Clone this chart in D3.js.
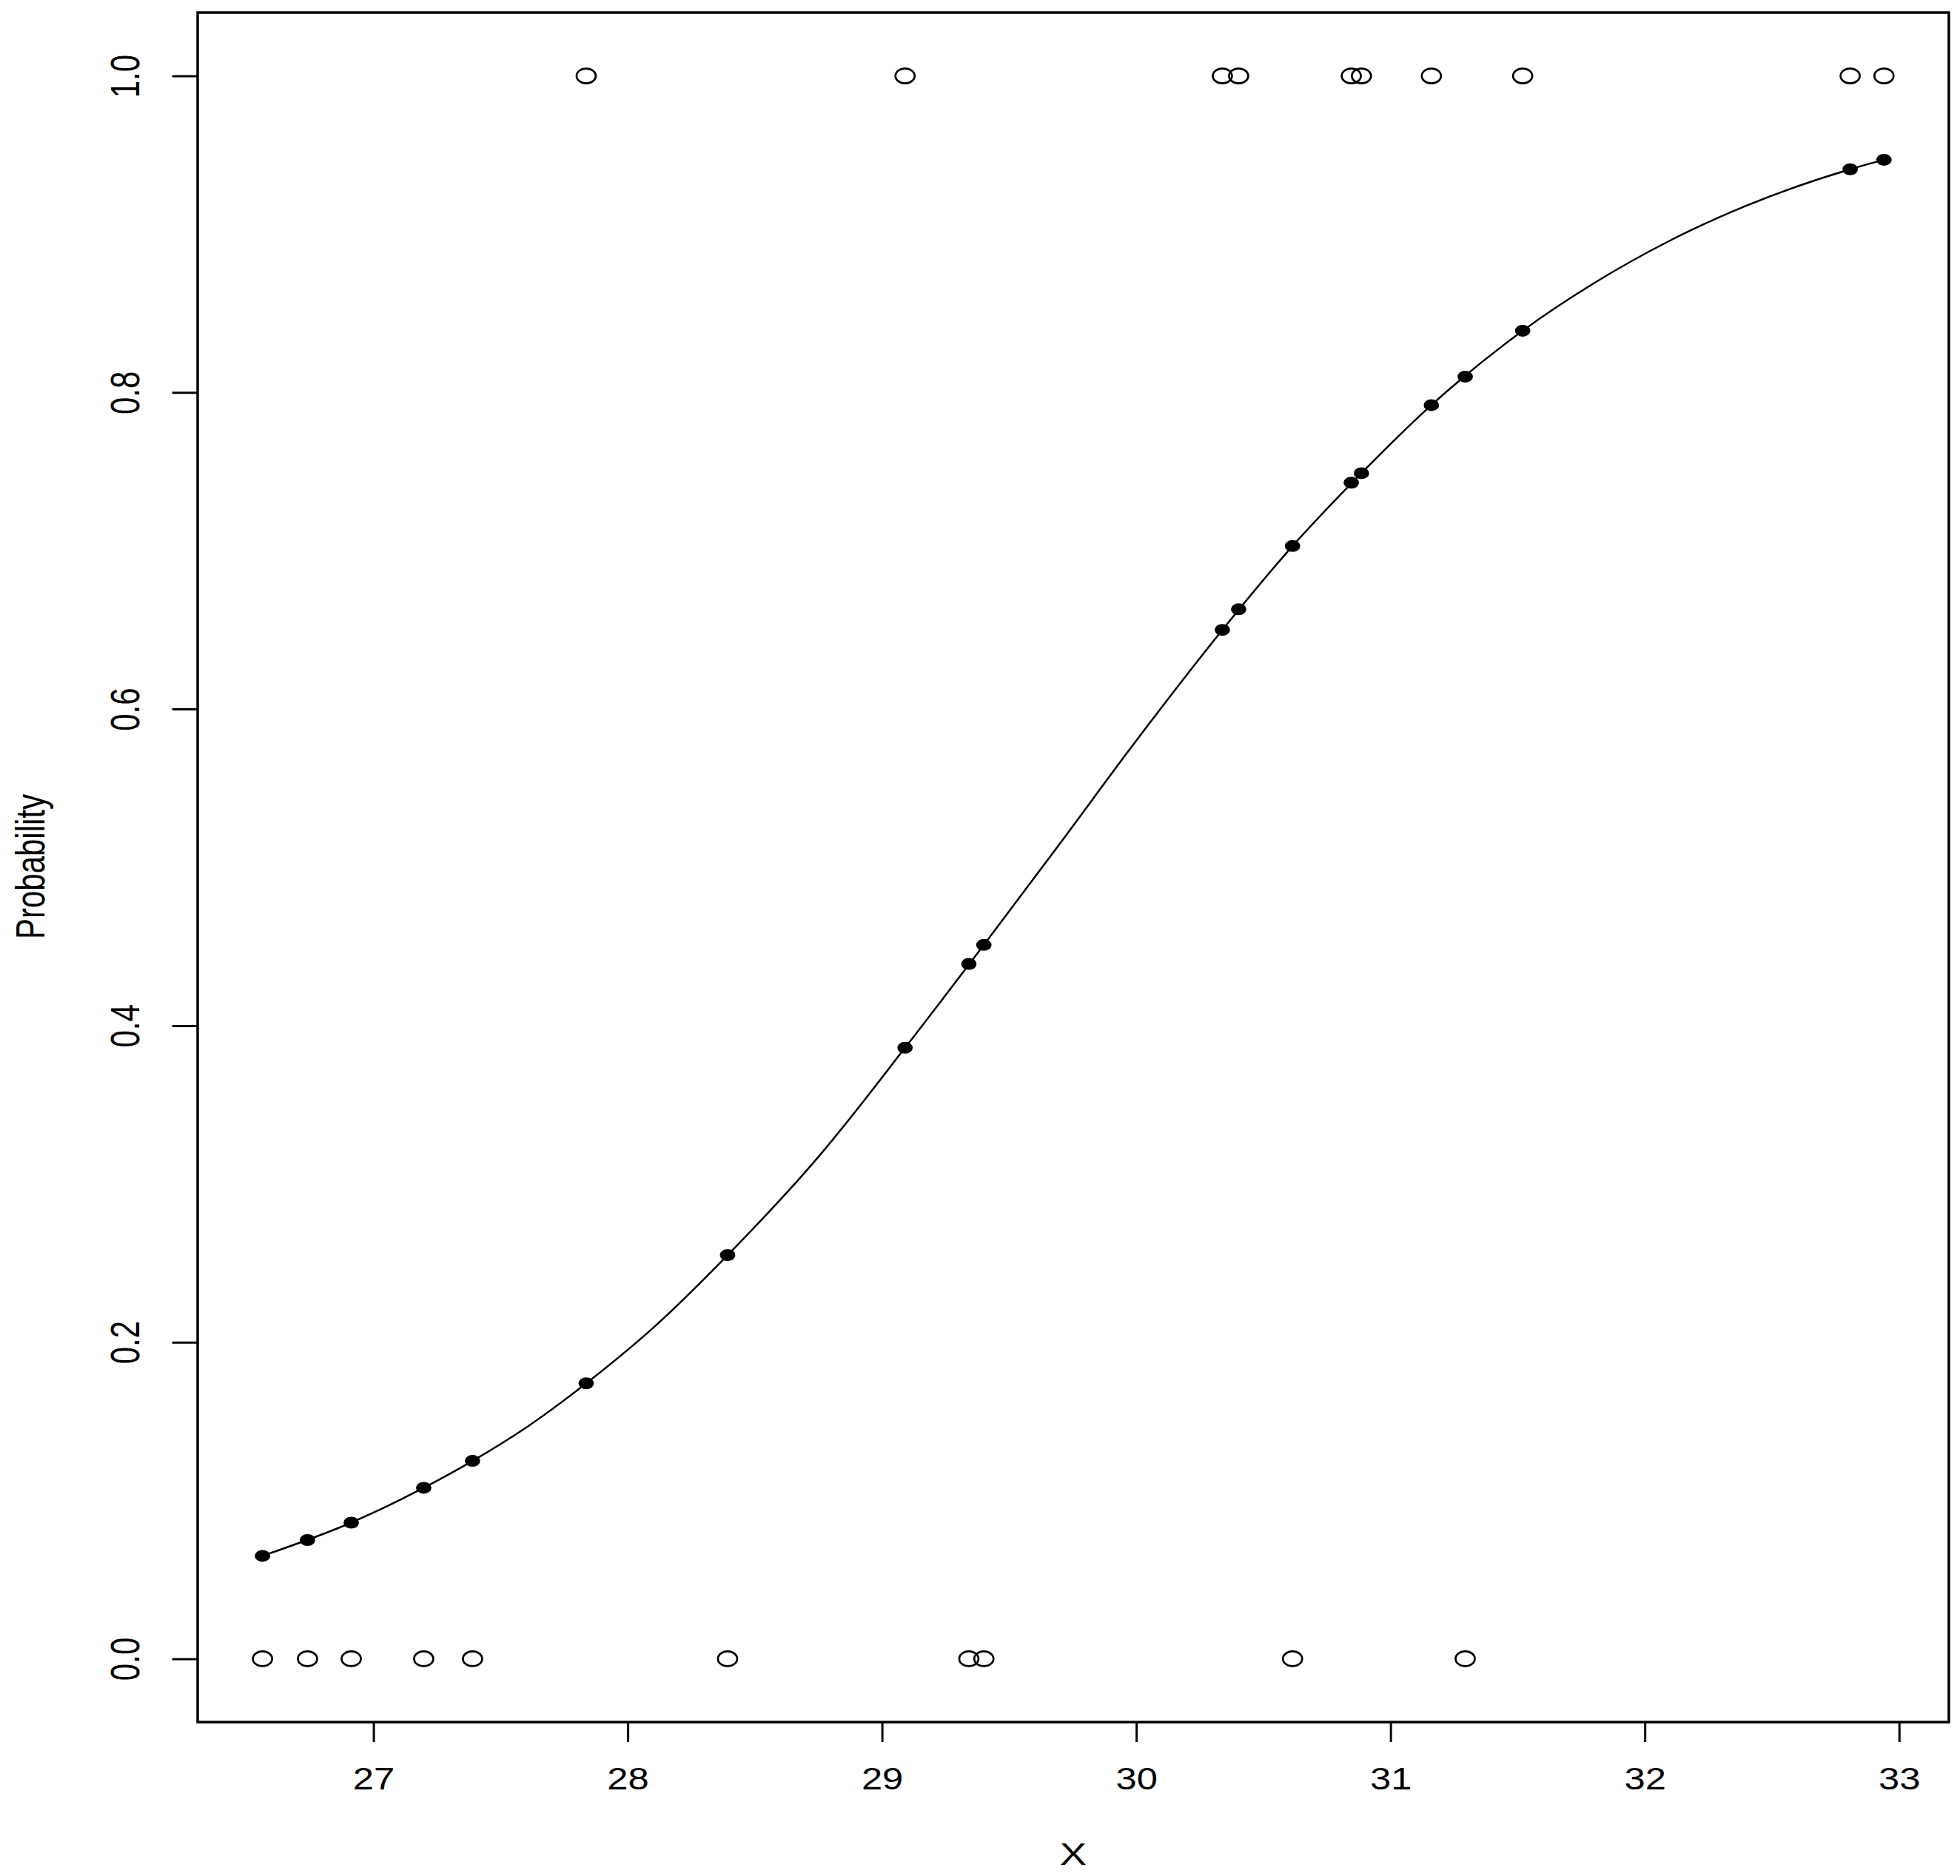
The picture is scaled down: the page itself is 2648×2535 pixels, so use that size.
<script src="https://d3js.org/d3.v7.min.js"></script>
<style>
  body { margin: 0; background: #fff; }
  svg text { font-family: "Liberation Sans", Arial, sans-serif; fill: #000; }
</style>

<div id="graph"></div>

<script>
    // observations: x value, observed outcome (0/1) and fitted probability
    var xValues = [26.564, 26.741, 26.913, 27.198, 27.390, 27.837, 28.393, 29.091, 29.342, 29.401,
                   30.339, 30.403, 30.615, 30.846, 30.886, 31.161, 31.294, 31.520, 32.808, 32.941];
    var outcome = [0, 0, 0, 0, 0, 1, 0, 1, 0, 0,
                   1, 1, 0, 1, 1, 1, 0, 1, 1, 1];
    var fitted = [0.065, 0.075, 0.086, 0.108, 0.125, 0.174, 0.255, 0.386, 0.439, 0.451,
                  0.650, 0.663, 0.703, 0.743, 0.749, 0.792, 0.810, 0.839, 0.941, 0.947];

    // fitted curve
    var curveX = [26.564, 26.913, 27.198, 27.390, 27.600, 27.837, 28.100, 28.393, 28.750, 29.091, 29.401,
                  29.700, 30.000, 30.339, 30.615, 30.886, 31.161, 31.520, 31.800, 32.100, 32.400, 32.808, 32.941];
    var curveP = [0.065, 0.086, 0.108, 0.125, 0.146, 0.174, 0.209, 0.255, 0.317, 0.386, 0.451,
                  0.515, 0.580, 0.650, 0.703, 0.749, 0.792, 0.839, 0.869, 0.896, 0.918, 0.941, 0.947];

    var xTicks = [27, 28, 29, 30, 31, 32, 33];
    var yTicks = [0, 0.2, 0.4, 0.6, 0.8, 1.0];

    // the original picture is stretched sideways, so draw in a narrower box and stretch it
    var stretch = 1.3;
    var fullW = 2648, fullH = 2535;
    var W = fullW / stretch;

    var margin = { top: 17, right: 11.6, bottom: 208, left: 205.4 },
        width = W - margin.left - margin.right,
        height = fullH - margin.top - margin.bottom;

    var root = d3.select("#graph")
        .append("svg")
        .attr("width", fullW)
        .attr("height", fullH)
        .attr("viewBox", "0 0 " + W + " " + fullH)
        .attr("preserveAspectRatio", "none");

    var svg = root.append("g")
        .attr("transform", "translate(" + margin.left + "," + margin.top + ")");

    var xr = d3.extent(xValues), xpad = (xr[1] - xr[0]) * 0.04;
    var x = d3.scaleLinear()
        .domain([xr[0] - xpad, xr[1] + xpad])
        .range([0, width]);

    var y = d3.scaleLinear()
        .domain([-0.04, 1.04])
        .range([height, 0]);

    // x axis
    var xAxis = svg.append("g")
        .attr("transform", "translate(0," + height + ")")
        .call(d3.axisBottom(x).tickValues(xTicks).tickFormat(d3.format("d")).tickSize(27).tickPadding(34));
    xAxis.select(".domain").remove();
    xAxis.selectAll(".tick line").attr("stroke", "#000").attr("stroke-width", 3).attr("vector-effect", "non-scaling-stroke");
    xAxis.selectAll(".tick text").attr("font-size", 42).attr("transform", "scale(0.93,1)");

    // y axis, labels turned like R does
    var yAxis = svg.append("g")
        .call(d3.axisLeft(y).tickValues(yTicks).tickFormat(d3.format(".1f")).tickSize(26.4));
    yAxis.select(".domain").remove();
    yAxis.selectAll(".tick line").attr("stroke", "#000").attr("stroke-width", 3).attr("vector-effect", "non-scaling-stroke");
    yAxis.selectAll(".tick text")
        .attr("x", null)
        .attr("dy", null)
        .attr("font-size", 42)
        .attr("text-anchor", "middle")
        .attr("transform", "translate(-60.8,0) rotate(-90)");

    // box
    svg.append("rect")
        .attr("x", 0)
        .attr("y", 0)
        .attr("width", width)
        .attr("height", height)
        .attr("fill", "none")
        .attr("stroke", "#000")
        .attr("stroke-width", 3.5)
        .attr("vector-effect", "non-scaling-stroke");

    // axis titles
    svg.append("text")
        .attr("x", width / 2)
        .attr("y", 2520 - margin.top)
        .attr("text-anchor", "middle")
        .attr("font-size", 42)
        .text("X");

    svg.append("text")
        .attr("transform", "translate(" + (46 - margin.left) + "," + (1171 - margin.top) + ") rotate(-90)")
        .attr("text-anchor", "middle")
        .attr("font-size", 42)
        .text("Probability");

    // fitted curve
    var pts = curveX.map(function (d, i) { return [d, curveP[i]]; });
    svg.append("path")
        .datum(pts)
        .attr("fill", "none")
        .attr("stroke", "#000")
        .attr("stroke-width", 2.5)
        .attr("vector-effect", "non-scaling-stroke")
        .attr("d", d3.line()
            .x(function (d) { return x(d[0]); })
            .y(function (d) { return y(d[1]); })
            .curve(d3.curveMonotoneX));

    // observed outcomes
    svg.append("g")
        .selectAll("circle")
        .data(xValues)
        .enter()
        .append("circle")
        .attr("cx", function (d) { return x(d); })
        .attr("cy", function (d, i) { return y(outcome[i]); })
        .attr("r", 10)
        .attr("fill", "none")
        .attr("stroke", "#000")
        .attr("stroke-width", 2.7)
        .attr("vector-effect", "non-scaling-stroke");

    // fitted values
    svg.append("g")
        .selectAll("circle")
        .data(xValues)
        .enter()
        .append("circle")
        .attr("cx", function (d) { return x(d); })
        .attr("cy", function (d, i) { return y(fitted[i]); })
        .attr("r", 8)
        .attr("fill", "#000");
</script>
